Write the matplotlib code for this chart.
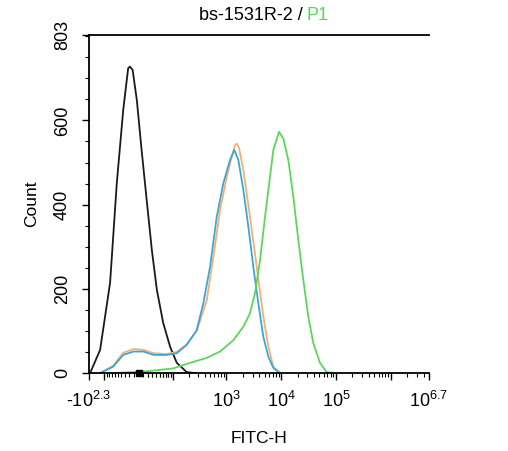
import matplotlib
matplotlib.use("Agg")
import matplotlib.pyplot as plt
import numpy as np

plt.rcParams['font.family'] = ['Liberation Sans', 'DejaVu Sans']
plt.rcParams['mathtext.fontset'] = 'custom'
plt.rcParams['mathtext.rm'] = 'Liberation Sans'
plt.rcParams['axes.unicode_minus'] = False

# FITC-H values and counts
black_x = [-190, -122, -76, -53, -35, -23, -19, -13, -4, 6, 17, 29, 42, 61, 87, 119, 185, 265]
black_y = [0, 55, 214, 451, 625, 724, 728, 720, 648, 530, 411, 292, 197, 119, 62, 24, 2, 0]

blue_x = [-122, -65, -35, -11, 10, 33, 73, 119, 185, 284, 377, 500, 664, 877, 1162,
          1393, 1648, 2035, 2510, 3097, 3820, 4717, 5820, 7180, 9517]
blue_y = [0, 15, 43, 51, 51, 43, 43, 47, 67, 102, 166, 252, 371, 451, 506,
          530, 506, 435, 348, 252, 166, 86, 39, 12, 0]

orange_x = [-122, -65, -35, -11, 10, 33, 73, 119, 185, 284, 436, 576, 763, 1012, 1249,
            1435, 1540, 1697, 2035, 2695, 3572, 4717, 5820, 7180, 9517]
orange_y = [0, 17, 48, 57, 55, 47, 45, 50, 68, 100, 173, 276, 387, 466, 514,
            541, 545, 535, 482, 371, 252, 134, 63, 15, 0]

green_x = [-65, 17, 101, 213, 436, 763, 1336, 2035, 2695, 3328, 4105, 5064, 6247, 7180,
           9126, 10935, 13490, 16643, 20545, 25350, 31280, 38600, 51170, 67850, 96200]
green_y = [0, 4, 11, 24, 36, 51, 78, 110, 142, 190, 268, 371, 466, 530,
           573, 557, 506, 419, 316, 221, 134, 71, 24, 2, 0]

x_major = [-10**2.3, -100, 100, 1e3, 1e4, 1e5, 1e6, 10**6.7]
x_labels = [r'-$\mathregular{10^{2.3}}$', '', '', r'$\mathregular{10^3}$', r'$\mathregular{10^4}$',
            r'$\mathregular{10^5}$', '', r'$\mathregular{10^{6.7}}$']
y_major = [0, 200, 400, 600, 803]

C = 50.0


def fwd(x):
    return np.arcsinh(np.asarray(x, dtype=float) / C)


def inv(u):
    return C * np.sinh(u)


fig = plt.figure(figsize=(5.08, 4.51), dpi=100)
ax = fig.add_axes([89 / 508, 1 - 373 / 451, 340 / 508, 338 / 451])
ax.set_xscale('function', functions=(fwd, inv))

ax.plot(black_x, black_y, color='#1a1a1a', lw=1.3)
ax.plot(orange_x, orange_y, color='#f2b078', lw=1.3)
ax.plot(blue_x, blue_y, color='#3ba7d6', lw=1.3)
ax.plot(green_x, green_y, color='#5cd65c', lw=1.3)

ax.set_xlim(-10**2.3, 10**6.7)
ax.set_ylim(0, 803)

minor = []
for d in [10, 100, 1000, 10000, 100000]:
    minor += [k * d for k in range(2, 10)]
minor += [k * 10 for k in range(-9, 10) if k != 0]
minor += [k * 1e6 for k in range(2, 6)]
ax.set_xticks(x_major)
ax.set_xticklabels(x_labels, fontsize=13)
ax.set_xticks(minor, minor=True)
ax.set_yticks(y_major)
ax.set_yticklabels([str(v) for v in y_major], fontsize=13, rotation=90, va='center')
ax.set_yticks(np.arange(50, 803, 50), minor=True)

ax.tick_params(axis='both', which='major', length=5, width=1, direction='out')
ax.tick_params(axis='both', which='minor', length=3, width=0.8, direction='out')
ax.tick_params(axis='x', which='major', pad=8)
ax.tick_params(axis='y', which='major', pad=8)
# zero marker on the axis
ax.plot([0], [0], marker='s', color='black', ms=4, clip_on=False,
        transform=ax.get_xaxis_transform(), zorder=5)

for s in ['left', 'bottom', 'top']:
    ax.spines[s].set_linewidth(1.3)
ax.spines['right'].set_visible(False)

ax.set_xlabel('FITC-H', fontsize=12.5, labelpad=14)
ax.set_ylabel('Count', fontsize=12.5, labelpad=11)

fig.text(303 / 508, 1 - 15 / 451, 'bs-1531R-2 /', ha='right', va='center', fontsize=13)
fig.text(307 / 508, 1 - 15 / 451, 'P1', ha='left', va='center', fontsize=13, color='#5cd65c')

fig.savefig('out.png', dpi=100)
